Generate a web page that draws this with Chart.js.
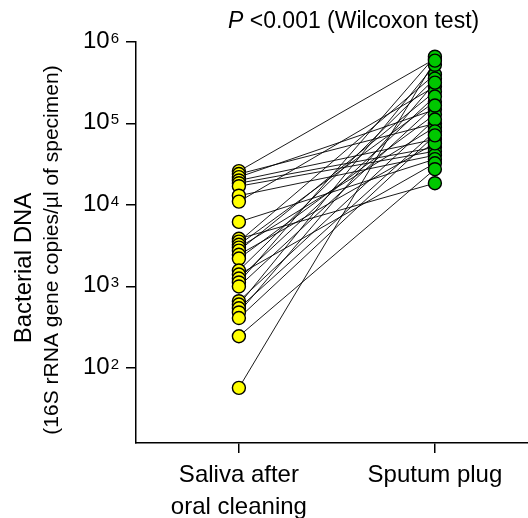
<!DOCTYPE html>
<html>
<head>
<meta charset="utf-8">
<script src="https://cdn.jsdelivr.net/npm/chart.js@4.4.1/dist/chart.umd.min.js"></script>
<style>
    html, body { margin: 0; padding: 0; background: #fff; }
    #contenitore { width: 528px; height: 518px; }
</style>
</head>
<body>
<div id="contenitore"><canvas id="grafico" width="528" height="518"></canvas></div>
<script>
// Dati (coppie per paziente)
const gruppi = [['Saliva after', 'oral cleaning'], 'Sputum plug'];
const saliva = [26000, 24000, 22000, 20000, 18500, 17000, 13000, 11000, 6200, 3850,
    3550, 3250, 3000, 2750, 2450, 2200, 1570, 1400, 1250, 1120,
    1000, 660, 600, 540, 480, 410, 245, 57];
const sputum = [620000, 100000, 148000, 64000, 51000, 45700, 40800, 283000, 36500, 18500,
    400000, 185000, 90000, 246000, 57000, 129000, 355000, 32500, 214000, 660000,
    166000, 112000, 525000, 80000, 317000, 71500, 27500, 590000];
const tickY = [1e2, 1e3, 1e4, 1e5, 1e6];
const esponenti = ['2', '3', '4', '5', '6'];

const FONT = '"Liberation Sans", Arial, sans-serif';

// Plugin per etichette asse y e titoli
const etichette = {
    id: 'etichette',
    afterDraw(chart) {
        const ctx = chart.ctx;
        const y = chart.scales.y;
        ctx.save();
        ctx.fillStyle = '#000';
        ctx.textBaseline = 'alphabetic';
        tickY.forEach((v, i) => {
            const py = y.getPixelForValue(v);
            ctx.font = '15px ' + FONT;
            const wSup = ctx.measureText(esponenti[i]).width;
            ctx.textAlign = 'left';
            ctx.fillText(esponenti[i], 119 - wSup, py + 1);
            ctx.font = '24px ' + FONT;
            ctx.textAlign = 'right';
            ctx.fillText('10', 119 - wSup - 1, py + 6);
        });

        // titolo in alto
        ctx.textAlign = 'left';
        ctx.font = 'italic 23px ' + FONT;
        ctx.fillText('P', 228, 28);
        const wP = ctx.measureText('P').width;
        ctx.font = '23px ' + FONT;
        ctx.fillText(' <0.001 (Wilcoxon test)', 228 + wP, 28);

        // titolo asse y
        ctx.textAlign = 'center';
        ctx.textBaseline = 'middle';
        ctx.translate(24, 268);
        ctx.rotate(-Math.PI / 2);
        ctx.font = '24px ' + FONT;
        ctx.fillText('Bacterial DNA', 0, 0);
        ctx.restore();

        ctx.save();
        ctx.fillStyle = '#000';
        ctx.textAlign = 'center';
        ctx.textBaseline = 'middle';
        ctx.translate(52, 250);
        ctx.rotate(-Math.PI / 2);
        ctx.font = '21px ' + FONT;
        ctx.fillText('(16S rRNA gene copies/\u00b5l of specimen)', 0, 0);
        ctx.restore();
    }
};

function creaGrafico() {
    const linee = saliva.map((s, i) => ({
        data: [{ x: 1, y: s }, { x: 2, y: sputum[i] }],
        showLine: true,
        borderColor: '#000',
        borderWidth: 0.9,
        pointRadius: 0,
        order: 2
    }));

    const punti = [
        {
            data: saliva.map(v => ({ x: 1, y: v })),
            backgroundColor: '#ffff00',
            borderColor: '#000',
            borderWidth: 1.4,
            pointRadius: 6.5,
            clip: false,
            order: 0
        },
        {
            data: sputum.map(v => ({ x: 2, y: v })),
            backgroundColor: '#00c800',
            borderColor: '#000',
            borderWidth: 1.4,
            pointRadius: 6.5,
            clip: false,
            order: 1
        }
    ];

    const ctx = document.getElementById('grafico').getContext('2d');
    new Chart(ctx, {
        type: 'scatter',
        data: { datasets: punti.concat(linee) },
        options: {
            responsive: false,
            animation: false,
            layout: { autoPadding: false, padding: { left: 126, top: 42, right: 0, bottom: 0 } },
            plugins: { legend: { display: false }, tooltip: { enabled: false } },
            scales: {
                x: {
                    type: 'linear',
                    min: 0.475,
                    max: 2.475,
                    afterBuildTicks: s => { s.ticks = [{ value: 1 }, { value: 2 }]; },
                    afterFit: s => { s.height = 75; },
                    ticks: {
                        callback: v => gruppi[v - 1],
                        font: { size: 24, family: FONT, lineHeight: 1.33 },
                        color: '#000',
                        padding: 6,
                        maxRotation: 0,
                        autoSkip: false
                    },
                    grid: { drawOnChartArea: false, drawTicks: true, tickLength: 10, color: '#000', lineWidth: 1.5 },
                    border: { color: '#000', width: 1.5 }
                },
                y: {
                    type: 'logarithmic',
                    min: 12,
                    max: 1e6,
                    afterBuildTicks: s => { s.ticks = tickY.map(v => ({ value: v })); },
                    afterFit: s => { s.width = 10; },
                    ticks: { display: false },
                    grid: { drawOnChartArea: false, drawTicks: true, tickLength: 10, color: '#000', lineWidth: 1.5 },
                    border: { color: '#000', width: 1.5 }
                }
            }
        },
        plugins: [etichette]
    });
}

document.addEventListener("DOMContentLoaded", () => {
    creaGrafico();
});
</script>
</body>
</html>
